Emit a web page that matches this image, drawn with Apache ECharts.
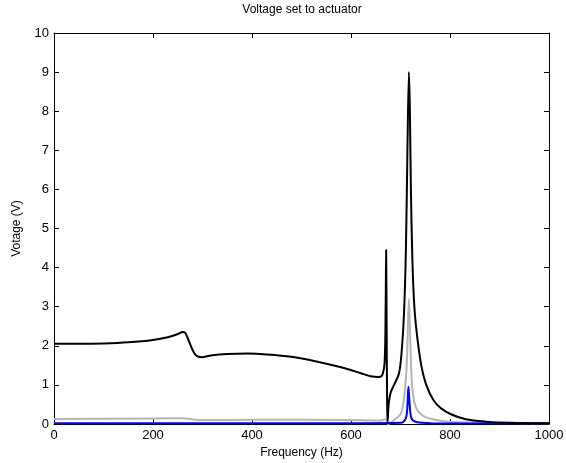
<!DOCTYPE html>
<html><head><meta charset="utf-8">
<script src="https://cdn.jsdelivr.net/npm/echarts@6/dist/echarts.min.js"></script>
<style>html,body{margin:0;padding:0;background:#fff}#c{width:566px;height:463px}</style>
</head><body><div id="c"></div>
<script>
const blackFreq = [0,50,100,150,200,230,250,260,265,270,278,285,292,300,320,350,390,430,480,530,580,620,640,655,663,668,670,671,672,673,674,676,680,687,697,702,707,711,714,717,719,721,724,728,734,742,752,767,782,802,832,872,920,1000];
const blackVal  = [2.05,2.05,2.06,2.09,2.15,2.22,2.3,2.35,2.33,2.2,1.95,1.78,1.72,1.71,1.76,1.79,1.8,1.78,1.72,1.6,1.45,1.3,1.22,1.2,1.25,1.6,3.0,4.45,2.5,0.5,0.05,0.5,0.8,1.0,1.3,1.8,2.8,4.5,7.0,9.0,8.0,6.0,4.2,3.0,2.2,1.5,1.0,0.6,0.4,0.25,0.12,0.06,0.03,0.02];
const grayFreq = [0,200,260,285,300,400,600,660,671,674,682,702,712,717,720,724,732,747,772,802,1000];
const grayVal  = [0.13,0.14,0.15,0.11,0.1,0.11,0.1,0.09,0.12,0.0,0.05,0.3,1.4,3.2,2.0,0.9,0.4,0.2,0.1,0.05,0.02];
const blueFreq = [0,300,600,702,712,716,718,722,732,762,1000];
const blueVal  = [0.02,0.02,0.02,0.03,0.2,0.95,0.6,0.15,0.05,0.02,0.01];
const xTicks = [0,200,400,600,800,1000];
const yTicks = [0,1,2,3,4,5,6,7,8,9,10];

const pairs = (f, v) => f.map((x, i) => [x, v[i]]);
const font = 'Liberation Sans, Arial, sans-serif';
const chart = echarts.init(document.getElementById('c'));
const axLine = {show: true, onZero: false, lineStyle: {color: '#000', width: 1}};
const tick = {show: true, inside: true, length: 5, lineStyle: {color: '#000'}};
chart.setOption({
  animation: false,
  title: {text: 'Voltage set to actuator', left: 302, top: 4, padding: 0, textAlign: 'center',
    textStyle: {fontFamily: font, fontSize: 12, fontWeight: 'normal', color: '#000'}},
  grid: {left: 54, right: 17, top: 33, bottom: 39, outerBoundsMode: 'none', containLabel: false},
  xAxis: [{
    type: 'value', min: xTicks[0], max: xTicks[xTicks.length - 1], interval: 200,
    name: 'Frequency (Hz)', nameLocation: 'middle', nameGap: 21,
    nameTextStyle: {fontFamily: font, fontSize: 12, color: '#000'},
    axisLine: axLine, axisTick: tick, splitLine: {show: false},
    axisLabel: {fontFamily: font, fontSize: 13, color: '#000', margin: 5, formatter: v => String(v)}
  }, {
    type: 'value', min: xTicks[0], max: xTicks[xTicks.length - 1], interval: 200, position: 'top',
    axisLine: axLine, axisTick: tick, splitLine: {show: false}, axisLabel: {show: false}
  }],
  yAxis: [{
    type: 'value', min: yTicks[0], max: yTicks[yTicks.length - 1], interval: 1,
    name: 'Votage (V)', nameLocation: 'middle', nameGap: 31,
    nameTextStyle: {fontFamily: font, fontSize: 12, color: '#000'},
    axisLine: axLine, axisTick: tick, splitLine: {show: false},
    axisLabel: {fontFamily: font, fontSize: 13, color: '#000', margin: 5}
  }, {
    type: 'value', min: yTicks[0], max: yTicks[yTicks.length - 1], interval: 1, position: 'right',
    axisLine: axLine, axisTick: tick, splitLine: {show: false}, axisLabel: {show: false}
  }],
  series: [
    {type: 'line', data: pairs(grayFreq, grayVal), showSymbol: false, smooth: 0.3,
      lineStyle: {color: '#b4b4b4', width: 2}, z: 2},
    {type: 'line', data: pairs(blueFreq, blueVal), showSymbol: false, smooth: 0.3,
      lineStyle: {color: '#0000ff', width: 2}, z: 3},
    {type: 'line', data: pairs(blackFreq, blackVal), showSymbol: false, smooth: 0.3,
      lineStyle: {color: '#000', width: 2}, z: 4}
  ]
});
</script></body></html>
